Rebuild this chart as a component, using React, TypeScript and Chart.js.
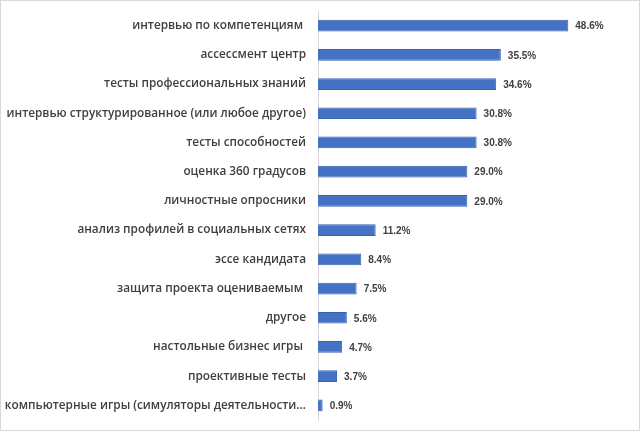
import React, { useEffect, useRef } from "react";
import { Chart, registerables } from "chart.js";

Chart.register(...registerables);

const categories: string[] = [
  "интервью по компетенциям ",
  "ассессмент центр",
  "тесты профессиональных знаний",
  "интервью структурированное (или любое другое)",
  "тесты способностей",
  "оценка 360 градусов",
  "личностные опросники",
  "анализ профилей в социальных сетях",
  "эссе кандидата",
  "защита проекта оцениваемым ",
  "другое",
  "настольные бизнес игры ",
  "проективные тесты",
  "компьютерные игры (симуляторы деятельности…",
];

const values: number[] = [48.6, 35.5, 34.6, 30.8, 30.8, 29.0, 29.0, 11.2, 8.4, 7.5, 5.6, 4.7, 3.7, 0.9];

const TEXT = "#404040";

const valueLabels = {
  id: "valueLabels",
  afterDatasetsDraw(chart: any) {
    const ctx = chart.ctx;
    const meta = chart.getDatasetMeta(0);
    ctx.save();
    ctx.font = "bold 10px 'Liberation Sans', Arial, sans-serif";
    ctx.fillStyle = TEXT;
    ctx.textAlign = "left";
    ctx.textBaseline = "middle";
    meta.data.forEach((bar: any, i: number) => {
      ctx.fillText(values[i].toFixed(1) + "%", bar.x + 7, bar.y + 1);
    });
    ctx.restore();
  },
};

export default function App() {
  const ref = useRef<HTMLCanvasElement | null>(null);
  useEffect(() => {
    document.body.style.margin = "0";
    const chart = new Chart(ref.current!, {
      type: "bar",
      data: {
        labels: categories,
        datasets: [
          {
            data: values,
            backgroundColor: "#4472C4",
            borderColor: "#3462B4",
            borderWidth: 1,
            barPercentage: 0.4,
            categoryPercentage: 1,
          },
        ],
      },
      options: {
        indexAxis: "y",
        responsive: false,
        animation: false,
        layout: { padding: { top: 10, bottom: 10, right: 12, left: 0 } },
        plugins: { legend: { display: false }, tooltip: { enabled: false } },
        scales: {
          x: { display: false, min: 0, max: 60 },
          y: {
            afterFit(scale: any) {
              scale.width = 317;
              scale.paddingTop = 0;
              scale.paddingBottom = 0;
            },
            grid: { display: false, drawTicks: false },
            border: { display: true, color: "#d9d9d9", width: 1 },
            ticks: {
              padding: 12,
              color: TEXT,
              autoSkip: false,
              font: { family: "'Open Sans', sans-serif", size: 11.8, weight: "600" },
            },
          },
        },
      },
      plugins: [valueLabels],
    });
    return () => chart.destroy();
  }, []);
  return (
    <div
      style={{
        width: 640,
        height: 431,
        boxSizing: "border-box",
        border: "1px solid #d9d9d9",
        background: "#fff",
      }}
    >
      <canvas ref={ref} width={638} height={429} style={{ display: "block" }} />
    </div>
  );
}
